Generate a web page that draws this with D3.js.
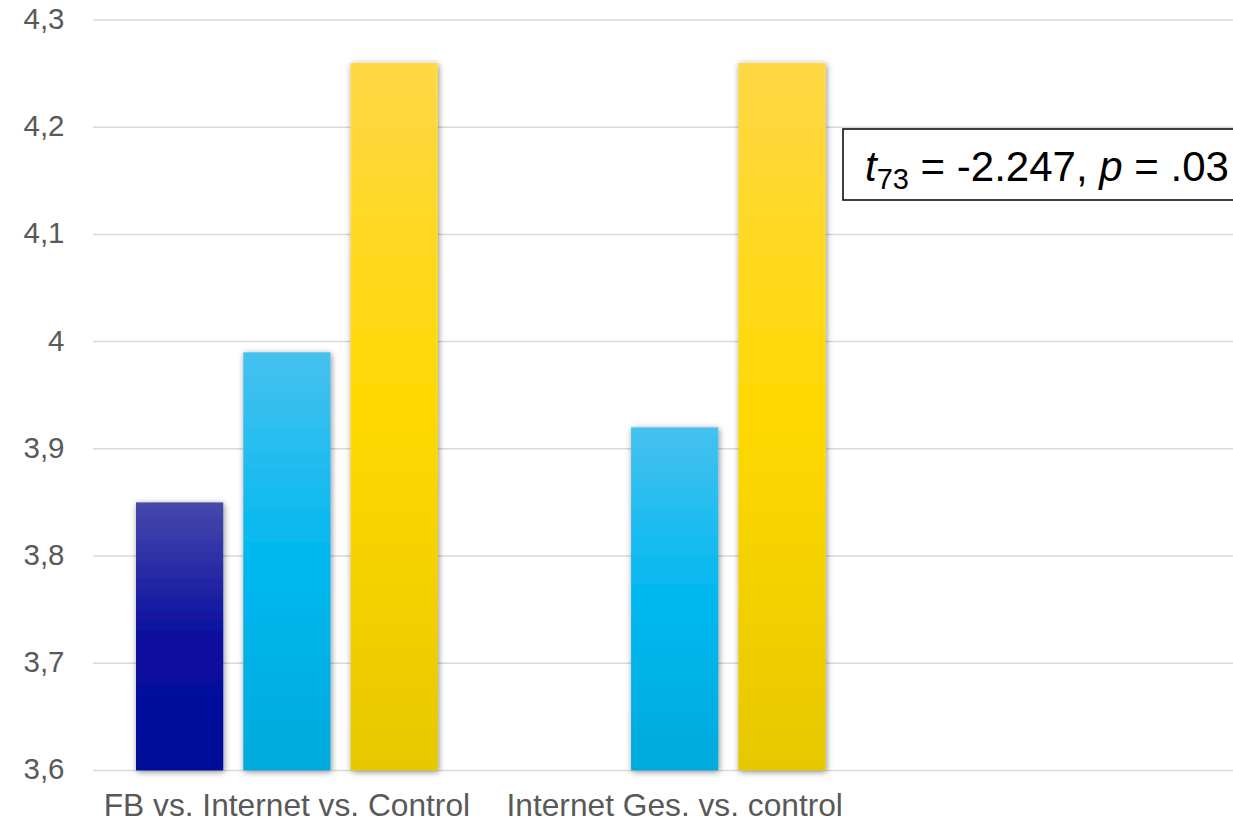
<!DOCTYPE html>
<html>
<head>
<meta charset="utf-8">
<script src="https://cdn.jsdelivr.net/npm/d3@7"></script>
<style>
  html, body { margin: 0; padding: 0; background: #ffffff; }
  svg { display: block; }
  text { font-family: "Liberation Sans", Arial, sans-serif; }
</style>
</head>
<body>
<svg id="chart" width="1233" height="823"></svg>
<script>
// Mean scores per comparison group
const categories = ["FB vs. Internet vs. Control", "Internet Ges. vs. control"];
const seriesNames = ["FB", "Internet", "Control"];
const fbValues       = [3.85, null];
const internetValues = [3.99, 3.92];
const controlValues  = [4.26, 4.26];
const yTicks = [3.6, 3.7, 3.8, 3.9, 4.0, 4.1, 4.2, 4.3];
const yTickLabels = ["3,6", "3,7", "3,8", "3,9", "4", "4,1", "4,2", "4,3"];
const statLabel = { t: "t", df: "73", tValue: " = -2.247, ", p: "p", pValue: " = .03" };

const series = [fbValues, internetValues, controlValues];

// Colour ramps (light top, pure middle, darker base) for each series
const gradients = [
  ["#4649ab", "#0a0fa0", "#000a99"],
  ["#46c1ef", "#00b8f0", "#00aadd"],
  ["#ffd846", "#ffd800", "#e6c800"]
];

const svg = d3.select("#chart");
const defs = svg.append("defs");

gradients.forEach((g, i) => {
  const lg = defs.append("linearGradient")
    .attr("id", "grad" + i)
    .attr("x1", 0).attr("y1", 0).attr("x2", 0).attr("y2", 1);
  lg.append("stop").attr("offset", "0%").attr("stop-color", g[0]);
  lg.append("stop").attr("offset", "50%").attr("stop-color", g[1]);
  lg.append("stop").attr("offset", "100%").attr("stop-color", g[2]);
});

const shadow = defs.append("filter").attr("id", "barShadow")
  .attr("x", "-20%").attr("y", "-5%").attr("width", "140%").attr("height", "110%");
shadow.append("feDropShadow")
  .attr("dx", 1).attr("dy", 1.5).attr("stdDeviation", 3)
  .attr("flood-color", "#000").attr("flood-opacity", 0.45);

const plotLeft = 93, plotRight = 1260;
const y = d3.scaleLinear().domain([3.6, 4.3]).range([770.4, 20]);

const x0 = d3.scaleBand().domain(categories).range([plotLeft, plotLeft + 2 * 387.8]);
const x1 = d3.scaleBand().domain(seriesNames)
  .range([43, x0.bandwidth() - 43]).paddingInner(0.187).paddingOuter(0);

// Horizontal gridlines
svg.append("g").selectAll("line").data(yTicks).join("line")
  .attr("x1", plotLeft).attr("x2", plotRight)
  .attr("y1", d => y(d)).attr("y2", d => y(d))
  .attr("stroke", "#d9d9d9").attr("stroke-width", 1.5);

// Y axis labels
const yAxis = d3.axisLeft(y).tickValues(yTicks)
  .tickFormat((d, i) => yTickLabels[i]).tickSize(0).tickPadding(0);
const yG = svg.append("g").attr("transform", "translate(64.5,0)").call(yAxis);
yG.select(".domain").remove();
yG.selectAll("text")
  .attr("fill", "#595959").attr("font-size", 29.5)
  .attr("font-family", "Liberation Sans, Arial, sans-serif")
  .attr("dy", "0.32em").attr("y", -1);

// Bars
const barData = [];
categories.forEach((c, ci) => {
  series.forEach((s, si) => {
    if (s[ci] != null) barData.push({ cat: c, name: seriesNames[si], idx: si, value: s[ci] });
  });
});

svg.append("g").selectAll("rect").data(barData).join("rect")
  .attr("x", d => x0(d.cat) + x1(d.name))
  .attr("width", x1.bandwidth())
  .attr("y", d => y(d.value))
  .attr("height", d => y(3.6) - y(d.value))
  .attr("fill", d => "url(#grad" + d.idx + ")")
  .attr("filter", "url(#barShadow)");

// Category labels
const xAxis = d3.axisBottom(x0).tickSize(0).tickPadding(0);
const xG = svg.append("g").attr("transform", "translate(0,816)").call(xAxis);
xG.select(".domain").remove();
xG.selectAll("text")
  .attr("fill", "#595959").attr("font-size", 31.7)
  .attr("font-family", "Liberation Sans, Arial, sans-serif")
  .attr("dy", 0).attr("y", 0);

// Test statistic annotation
const box = svg.append("g");
box.append("rect")
  .attr("x", 843).attr("y", 129).attr("width", 420).attr("height", 71)
  .attr("fill", "#ffffff").attr("stroke", "#000000").attr("stroke-width", 1.5);
const st = box.append("text")
  .attr("x", 865).attr("y", 181)
  .attr("font-size", 42).attr("fill", "#000000");
st.append("tspan").attr("font-style", "italic").text(statLabel.t);
st.append("tspan").attr("font-size", 29).attr("dy", 8).text(statLabel.df);
st.append("tspan").attr("dy", -8).text(statLabel.tValue);
st.append("tspan").attr("font-style", "italic").text(statLabel.p);
st.append("tspan").text(statLabel.pValue);
</script>
</body>
</html>
